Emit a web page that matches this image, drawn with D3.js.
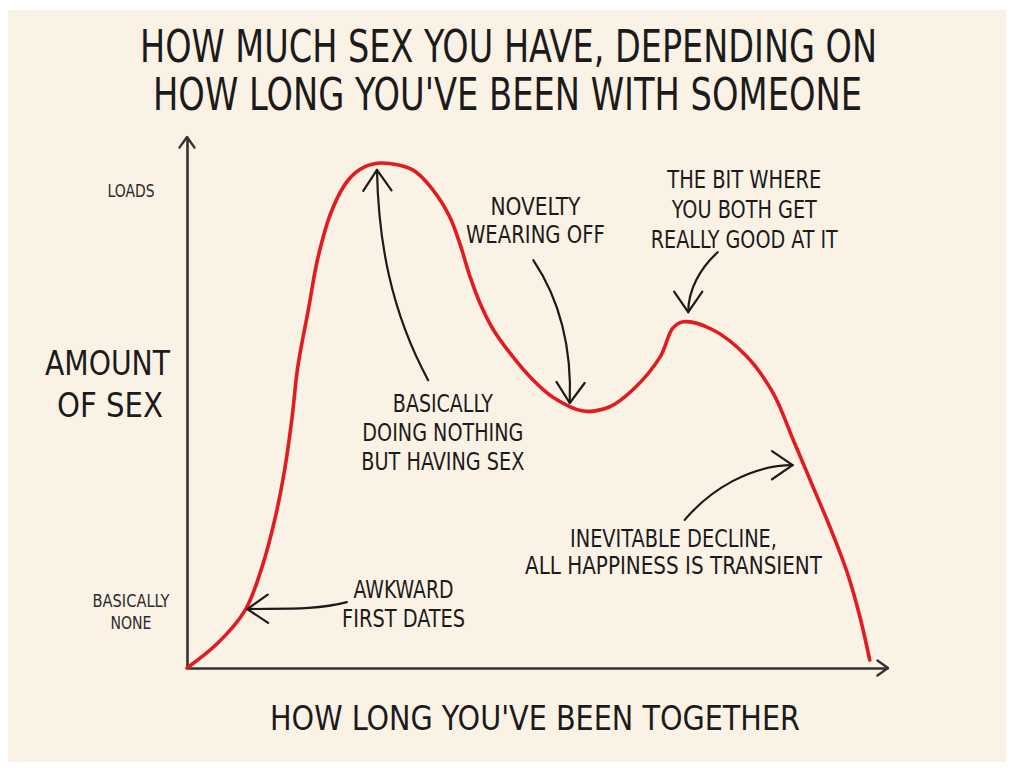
<!DOCTYPE html>
<html><head><meta charset="utf-8">
<script src="https://cdn.jsdelivr.net/npm/d3@7"></script>
<style>
html,body{margin:0;padding:0;background:#fff;}
svg{display:block;}
</style></head><body>
<svg id="chart" width="1018" height="777"></svg>
<script>
// ---------- data ----------
const titleLines = ["HOW MUCH SEX YOU HAVE, DEPENDING ON", "HOW LONG YOU'VE BEEN WITH SOMEONE"];
const xAxisTitle = "HOW LONG YOU'VE BEEN TOGETHER";
const yAxisTitleLines = ["AMOUNT", "OF SEX"];
const yTickValues = [10.7, 90];
const yTickLabels = [["BASICALLY", "NONE"], ["LOADS"]];
const timeTogether = [0, 4.4, 8.3, 10.7, 12.6, 14.0, 15.0, 15.8, 17.3, 18.7, 20.7, 23.0, 25.4, 27.8, 32.2, 35.1, 37.5, 38.9, 40.4, 41.8, 43.7, 46.5, 49.4, 52.2, 56.5, 60.3, 63.6, 67.5, 69.3, 70.8, 75.0, 79.9, 83.6, 86.5, 89.3, 91.7, 94.2, 96.0, 97.4];
const amountOfSex  = [0, 4.7, 10.9, 19.0, 28.4, 37.9, 47.3, 56.7, 67.4, 77.4, 86.3, 91.9, 94.4, 95.1, 93.8, 90.0, 84.9, 80.0, 73.6, 68.7, 63.7, 58.6, 54.2, 51.0, 48.4, 49.2, 52.4, 58.6, 64.0, 65.2, 63.7, 58.6, 51.8, 42.9, 34.1, 26.6, 17.9, 9.6, 1.5];
const annotationTexts = [
  ["AWKWARD", "FIRST DATES"],
  ["BASICALLY", "DOING NOTHING", "BUT HAVING SEX"],
  ["NOVELTY", "WEARING OFF"],
  ["THE BIT WHERE", "YOU BOTH GET", "REALLY GOOD AT IT"],
  ["INEVITABLE DECLINE,", "ALL HAPPINESS IS TRANSIENT"]
];

// ---------- layout ----------
const svg = d3.select("#chart");
const FONT = "'DejaVu Sans Condensed','DejaVu Sans',sans-serif";
const INK = "#1b1b1b";

svg.append("rect").attr("x", 8).attr("y", 10).attr("width", 998).attr("height", 752).attr("fill", "#fbf2e6");

const x = d3.scaleLinear().domain([0, 100]).range([187, 888]);
const y = d3.scaleLinear().domain([0, 100]).range([668, 137]);

function label(sel, str, cx, by, size, width, color) {
  const t = sel.append("text").attr("x", cx).attr("y", by).attr("text-anchor", "middle")
    .attr("font-family", FONT).attr("font-size", size).attr("fill", color || INK).text(str);
  if (width) t.attr("textLength", width).attr("lengthAdjust", "spacingAndGlyphs");
  return t;
}

function arrowHead(g, tip, from, len, spread, color, w) {
  const ang = Math.atan2(tip[1] - from[1], tip[0] - from[0]);
  const a1 = ang + Math.PI - spread, a2 = ang + Math.PI + spread;
  const p = d3.path();
  p.moveTo(tip[0] + len * Math.cos(a1), tip[1] + len * Math.sin(a1));
  p.lineTo(tip[0], tip[1]);
  p.lineTo(tip[0] + len * Math.cos(a2), tip[1] + len * Math.sin(a2));
  g.append("path").attr("d", p.toString()).attr("fill", "none").attr("stroke", color)
    .attr("stroke-width", w).attr("stroke-linecap", "round").attr("stroke-linejoin", "round");
}

// title
const titleW = [737, 709];
titleLines.forEach((t, i) => label(svg, t, [508.5, 507.5][i], 62 + i * 48, 44, titleW[i]));

// axes
const AX = "#333";
const gx = svg.append("g").attr("transform", `translate(0,${y(0)})`)
  .call(d3.axisBottom(x).tickValues([]).tickSizeOuter(0));
gx.select(".domain").attr("stroke", AX).attr("stroke-width", 2.6);
const gy = svg.append("g").attr("transform", `translate(${x(0)},0)`)
  .call(d3.axisLeft(y).tickValues(yTickValues).tickSize(0).tickFormat(""));
gy.select(".domain").attr("stroke", AX).attr("stroke-width", 2.6);
arrowHead(svg, [x.range()[1], y(0)], [x.range()[0], y(0)], 13, 0.62, AX, 2.4);
arrowHead(svg, [x(0), y.range()[1]], [x(0), y.range()[0]], 13, 0.62, AX, 2.4);

// y tick labels
const tickWidths = [[77, 41], [47]];
gy.selectAll(".tick").each(function (d, i) {
  const lines = yTickLabels[i];
  const g = d3.select(this);
  g.select("text").remove();
  const lh = 22, size = 18;
  const top = -((lines.length - 1) * lh) / 2 + size * 0.729 / 2;
  lines.forEach((ln, j) => label(g, ln, -56, top + j * lh, size, tickWidths[i][j], "#2a2a2a"));
});

// axis titles
label(svg, xAxisTitle, 535, 730, 34, 530);
const yTW = [125, 106];
yAxisTitleLines.forEach((t, i) => label(svg, t, [107.5, 110][i], 375 + i * 42, 34, yTW[i]));

// curve
const line = d3.line()
  .x((d, i) => x(timeTogether[i]))
  .y((d, i) => y(amountOfSex[i]))
  .curve(d3.curveCatmullRom.alpha(0.5));
svg.append("path").datum(timeTogether).attr("d", line)
  .attr("fill", "none").attr("stroke", "#e21b1f").attr("stroke-width", 3.6)
  .attr("stroke-linecap", "round").attr("stroke-linejoin", "round");

// annotations (positions in data units)
const annotations = [
  { at: [30.9, 13.2], lh: 29, size: 25, widths: [100, 123],
    arrow: [[22.8, 12.4], [18.5, 10.9], [14.0, 11.2], [8.6, 11.1]] },
  { at: [36.5, 48.2], lh: 29, size: 25, widths: [100, 161, 163],
    arrow: [[34.4, 54.2], [29.0, 67.4], [27.3, 80.6], [27.1, 93.8]] },
  { at: [49.7, 85.3], lh: 28, size: 25, widths: [90, 139],
    arrow: [[49.4, 76.8], [53.2, 69.3], [54.9, 59.9], [54.6, 49.9]] },
  { at: [79.5, 90.4], lh: 30, size: 24, widths: [154, 145, 187],
    arrow: [[75.7, 78.3], [73.2, 75.3], [71.5, 71.2], [71.5, 67.0]] },
  { at: [69.4, 22.8], lh: 27, size: 25, widths: [207, 297],
    arrow: [[71.0, 27.9], [74.6, 33.5], [80.3, 38.2], [86.4, 38.2]] }
];
const ga = svg.append("g");
annotations.forEach((a, k) => {
  annotationTexts[k].forEach((t, j) => label(ga, t, x(a.at[0]), y(a.at[1]) + j * a.lh, a.size, a.widths[j]));
  const pts = a.arrow.map(p => [x(p[0]), y(p[1])]);
  const p = d3.path();
  p.moveTo(pts[0][0], pts[0][1]);
  p.bezierCurveTo(pts[1][0], pts[1][1], pts[2][0], pts[2][1], pts[3][0], pts[3][1]);
  ga.append("path").attr("d", p.toString()).attr("fill", "none").attr("stroke", INK)
    .attr("stroke-width", 2.2).attr("stroke-linecap", "round");
  arrowHead(ga, pts[3], pts[2], 25, 0.6, INK, 2.2);
});
</script>
</body></html>
